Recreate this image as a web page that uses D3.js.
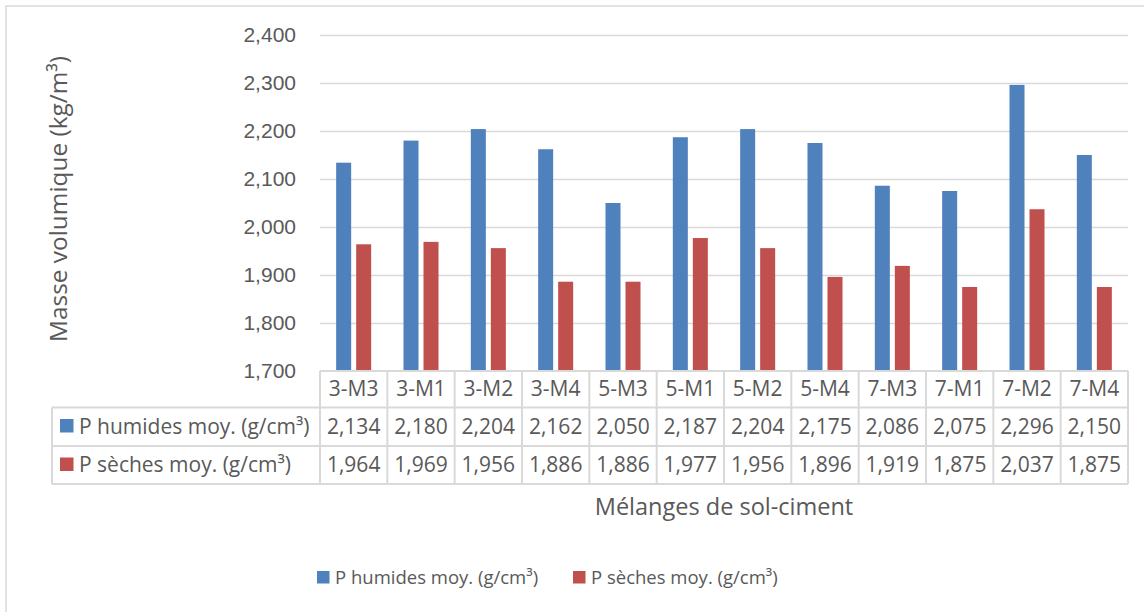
<!DOCTYPE html>
<html>
<head>
<meta charset="utf-8">
<script src="https://cdn.jsdelivr.net/npm/d3@7"></script>
<style>
  html, body { margin: 0; padding: 0; background: #fff; }
  svg { display: block; font-family: "Open Sans", "Noto Sans", sans-serif; }
  text { fill: #595959; }
</style>
</head>
<body>
<svg id="chart" width="1144" height="612"></svg>
<script>
// Soil-cement mixes and their mean densities
const categories = ["3-M3", "3-M1", "3-M2", "3-M4", "5-M3", "5-M1", "5-M2", "5-M4", "7-M3", "7-M1", "7-M2", "7-M4"];
const seriesNames = ["P humides moy. (g/cm³)", "P sèches moy. (g/cm³)"];
const humides = [2.134, 2.180, 2.204, 2.162, 2.050, 2.187, 2.204, 2.175, 2.086, 2.075, 2.296, 2.150];
const seches  = [1.964, 1.969, 1.956, 1.886, 1.886, 1.977, 1.956, 1.896, 1.919, 1.875, 2.037, 1.875];
const yTicks = [1700, 1800, 1900, 2000, 2100, 2200, 2300, 2400];
const colors = ["#4f81bd", "#c0504d"];

const seriesValues = [humides, seches];
const svg = d3.select("#chart");
const grid = "#d9d9d9";

// plot frame
const plot = { left: 320, right: 1128, top: 35, bottom: 371 };
const rowTops = [371, 407.5, 446, 484];
const tableLeft = 52;

// outer chart border (chart area continues past the visible frame)
svg.append("rect")
  .attr("x", 6).attr("y", 6).attr("width", 1200).attr("height", 700)
  .attr("fill", "none").attr("stroke", grid).attr("stroke-width", 1.5);

const x = d3.scaleBand().domain(categories).range([plot.left, plot.right]);
const y = d3.scaleLinear().domain([1700, 2400]).range([plot.bottom, plot.top]);
const groupW = x.bandwidth() * 0.52;
const x1 = d3.scaleBand().domain(seriesNames).range([-groupW / 2, groupW / 2]).paddingInner(0.25);

// horizontal gridlines
svg.append("g")
  .attr("transform", `translate(${plot.left},0)`)
  .call(d3.axisLeft(y).tickValues(yTicks.slice(1)).tickSize(-(plot.right - plot.left)).tickFormat(""))
  .call(g => g.select(".domain").remove())
  .call(g => g.selectAll("line").attr("stroke", grid).attr("stroke-width", 1.5));

// y tick labels
svg.append("g")
  .attr("transform", `translate(${plot.left},0)`)
  .call(d3.axisLeft(y).tickValues(yTicks).tickSize(0).tickPadding(24).tickFormat(d3.format(",")))
  .call(g => g.select(".domain").remove())
  .call(g => g.selectAll("text").attr("font-size", 21).attr("fill", "#595959").attr("font-family", null));

// bars
seriesNames.forEach((name, si) => {
  svg.append("g").selectAll("rect")
    .data(categories.map((c, i) => ({ c, v: seriesValues[si][i] * 1000 })))
    .join("rect")
    .attr("x", d => x(d.c) + x.bandwidth() / 2 + x1(name))
    .attr("width", x1.bandwidth())
    .attr("y", d => y(d.v))
    .attr("height", d => y(1700) - y(d.v))
    .attr("fill", colors[si]);
});

// data table grid
const tbl = svg.append("g").attr("stroke", grid).attr("stroke-width", 2).attr("fill", "none");
tbl.append("line").attr("x1", plot.left).attr("x2", plot.right).attr("y1", rowTops[0]).attr("y2", rowTops[0]);
rowTops.slice(1).forEach(ty => {
  tbl.append("line").attr("x1", tableLeft).attr("x2", plot.right).attr("y1", ty).attr("y2", ty);
});
categories.forEach(c => {
  tbl.append("line").attr("x1", x(c)).attr("x2", x(c)).attr("y1", rowTops[0]).attr("y2", rowTops[3]);
});
tbl.append("line").attr("x1", plot.right).attr("x2", plot.right).attr("y1", rowTops[0]).attr("y2", rowTops[3]);
tbl.append("line").attr("x1", tableLeft).attr("x2", tableLeft).attr("y1", rowTops[1]).attr("y2", rowTops[3]);

// table header: category names
svg.append("g").selectAll("text")
  .data(categories).join("text")
  .attr("x", c => x(c) + x.bandwidth() / 2)
  .attr("y", 396)
  .attr("text-anchor", "middle").attr("font-size", 21)
  .text(c => c);

// table value rows with series keys
const fmt = d3.format(",.0f");
seriesNames.forEach((name, si) => {
  const base = si === 0 ? 433.5 : 472;
  svg.append("rect")
    .attr("x", 60).attr("y", base - 14.5).attr("width", 13.5).attr("height", 13.5)
    .attr("fill", colors[si]);
  svg.append("text")
    .attr("x", 79).attr("y", base).attr("font-size", 21)
    .text(name);
  svg.append("g").selectAll("text")
    .data(categories.map((c, i) => ({ c, v: seriesValues[si][i] * 1000 })))
    .join("text")
    .attr("x", d => x(d.c) + x.bandwidth() / 2)
    .attr("y", base)
    .attr("text-anchor", "middle").attr("font-size", 21)
    .text(d => fmt(d.v));
});

// axis titles
svg.append("text")
  .attr("x", (plot.left + plot.right) / 2).attr("y", 515)
  .attr("text-anchor", "middle").attr("font-size", 23.5)
  .text("Mélanges de sol-ciment");

svg.append("text")
  .attr("transform", `translate(67,${(plot.top + plot.bottom) / 2 - 4}) rotate(-90)`)
  .attr("text-anchor", "middle").attr("font-size", 24.4)
  .text("Masse volumique (kg/m³)");

// legend
const legendX = [317, 573];
seriesNames.forEach((name, si) => {
  const g = svg.append("g").attr("transform", `translate(${legendX[si]},0)`);
  g.append("rect").attr("x", 0).attr("y", 571).attr("width", 12.5).attr("height", 12.5).attr("fill", colors[si]);
  g.append("text").attr("x", 18).attr("y", 583.5).attr("font-size", 18.5).text(name);
});
</script>
</body>
</html>
